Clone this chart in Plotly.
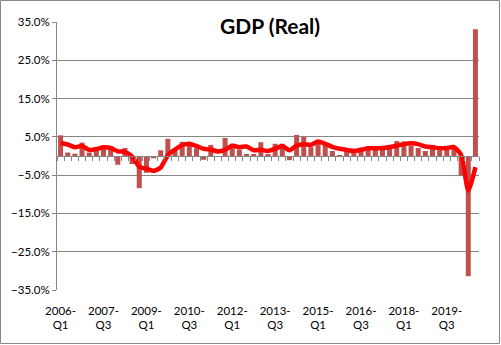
import plotly.graph_objects as go

years = list(range(2006, 2021))
quarters = [f"{y}-Q{q}" for y in years for q in range(1, 5)][:59]

# Annualized quarter-over-quarter real GDP growth (%)
qoq = [5.4, 0.9, 0.6, 3.5,
       0.9, 2.3, 2.2, 2.5,
       -2.3, 2.1, -2.1, -8.4,
       -4.4, -0.6, 1.5, 4.5,
       1.5, 3.7, 3.0, 2.0,
       -1.0, 2.9, -0.1, 4.7,
       3.2, 1.7, 0.5, 0.5,
       3.6, 0.5, 3.2, 3.2,
       -1.1, 5.5, 5.0, 2.3,
       3.2, 3.0, 1.3, 0.1,
       2.0, 1.9, 2.2, 2.0,
       2.3, 1.7, 2.9, 3.9,
       3.8, 2.7, 2.1, 1.3,
       2.9, 1.5, 2.6, 2.4,
       -5.0, -31.4, 33.1]

# Year-over-year real GDP growth (%)
yoy = [3.4, 3.0, 2.3, 2.6,
       1.6, 1.8, 2.3, 2.1,
       1.2, 1.1, -0.1, -2.8,
       -3.3, -3.9, -3.0, 0.2,
       1.7, 2.8, 3.2, 2.6,
       1.9, 1.7, 1.2, 1.6,
       2.7, 2.3, 2.5, 1.5,
       1.6, 1.3, 1.9, 2.6,
       1.5, 2.7, 3.1, 2.9,
       3.8, 3.2, 2.4, 1.9,
       1.6, 1.3, 1.6, 2.0,
       2.0, 2.1, 2.3, 2.7,
       3.1, 3.3, 3.1, 2.5,
       2.3, 2.0, 2.1, 2.3,
       0.3, -9.0, -2.9]

label_every = 6
tick_vals = quarters[::label_every]
tick_text = [q.replace("-", "-<br>") for q in tick_vals]

W, H = 501, 345
ML, MR, MT, MB = 57, 22, 22, 55
pw, ph = W - ML - MR, H - MT - MB

font = "Lato, Carlito, 'Liberation Sans', sans-serif"

fig = go.Figure()
fig.add_trace(go.Bar(x=quarters, y=qoq, marker_color="#C0504D",
                     marker_line_width=0, xaxis="x", yaxis="y", showlegend=False))
fig.add_trace(go.Scatter(x=quarters, y=yoy, mode="lines", line=dict(color="#FF0000", width=4.5, shape="spline", smoothing=0.6),
                         xaxis="x2", yaxis="y", showlegend=False))

fig.update_layout(
    width=W, height=H,
    margin=dict(l=ML, r=MR, t=MT, b=MB),
    paper_bgcolor="white", plot_bgcolor="white",
    bargap=0.3,
    font=dict(family=font, size=11, color="#000000"),
    title=dict(text="<b>GDP (Real)</b>", x=270 / W, xanchor="center", y=1 - 27 / H, yanchor="middle",
               font=dict(family=font, size=21, color="#000000")),
    xaxis=dict(type="category", categoryorder="array", categoryarray=quarters,
               range=[-0.5, len(quarters) - 0.5], anchor="free", position=0.5,
               showticklabels=False, showgrid=False, showline=True, linecolor="#868686", linewidth=1,
               ticks="outside", tickson="boundaries", ticklen=4, tickcolor="#868686",
               tickmode="linear", dtick=1, zeroline=False),
    xaxis2=dict(type="category", categoryorder="array", categoryarray=quarters,
                range=[-0.5, len(quarters) - 0.5], overlaying="x", anchor="y", side="bottom",
                tickmode="array", tickvals=tick_vals, ticktext=tick_text, ticks="",
                ticklabelstandoff=12,
                showgrid=False, showline=False, zeroline=False,
                tickfont=dict(family=font, size=11.5, color="#000000")),
    yaxis=dict(range=[-35, 35], tickmode="linear", tick0=-35, dtick=10,
               ticksuffix="%", tickformat=".1f",
               showgrid=True, gridcolor="#868686", gridwidth=1,
               showline=True, linecolor="#868686", linewidth=1,
               ticks="outside", ticklen=4, tickcolor="#868686",
               zeroline=False, tickfont=dict(family=font, size=11.5, color="#000000")),
    shapes=[dict(type="rect", xref="paper", yref="paper",
                 x0=-(ML - 0.5) / pw, x1=1 + (MR - 1.5) / pw,
                 y0=-(MB - 1.5) / ph, y1=1 + (MT - 0.5) / ph,
                 line=dict(color="#868686", width=1), layer="below")],
)

fig.write_html("out.html")
